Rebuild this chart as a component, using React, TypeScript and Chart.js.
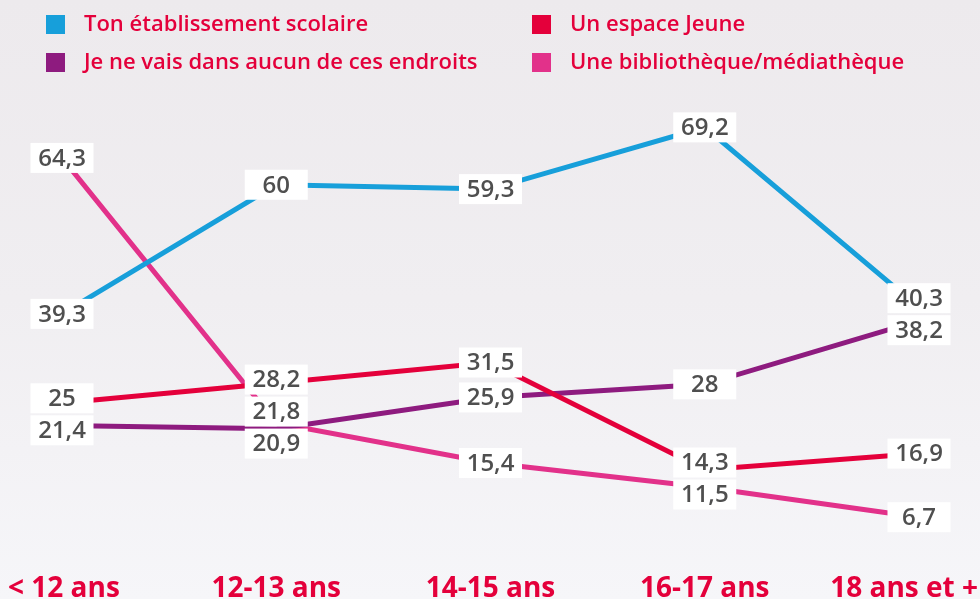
import React, { useEffect, useRef } from "react";
import { Chart, registerables } from "chart.js";

Chart.register(...registerables);

// ---- Data ----
const categories = ["< 12 ans", "12-13 ans", "14-15 ans", "16-17 ans", "18 ans et +"];
const seriesNames = [
  "Ton établissement scolaire",
  "Un espace Jeune",
  "Je ne vais dans aucun de ces endroits",
  "Une bibliothèque/médiathèque",
];
const etablissement = [39.3, 60, 59.3, 69.2, 40.3];
const espaceJeune = [25, 28.2, 31.5, 14.3, 16.9];
const aucunEndroit = [21.4, 20.9, 25.9, 28, 38.2];
const bibliotheque = [64.3, 21.8, 15.4, 11.5, 6.7];

const seriesColors = ["#179fda", "#e4003b", "#8e1b7f", "#e2318a"];
const RED_TEXT = "#e4003b";
const LABEL_TEXT = "#4f4f4f";

const fmt = (v: number) => String(v).replace(".", ",");

const valueLabelsPlugin = {
  id: "valueLabels",
  afterDatasetsDraw(chart: any) {
    const ctx = chart.ctx;
    const W = 63;
    const H = 30;
    const S = 32;
    const n = chart.data.labels.length;
    ctx.save();
    ctx.font = "600 24px 'Open Sans'";
    ctx.textAlign = "center";
    ctx.textBaseline = "middle";
    for (let i = 0; i < n; i++) {
      const items: any[] = [];
      chart.data.datasets.forEach((ds: any, d: number) => {
        const el = chart.getDatasetMeta(d).data[i];
        if (!el) return;
        items.push({ x: el.x, y: el.y, text: fmt(ds.data[i]) });
      });
      items.sort((a, b) => a.y - b.y);
      let groups = items.map((it) => ({ members: [it], center: it.y }));
      let changed = true;
      while (changed) {
        changed = false;
        for (let k = 0; k < groups.length - 1; k++) {
          const a = groups[k];
          const b = groups[k + 1];
          const aBottom = a.center + (a.members.length * S) / 2;
          const bTop = b.center - (b.members.length * S) / 2;
          if (aBottom > bTop) {
            const members = [...a.members, ...b.members];
            const center = members.reduce((s, m) => s + m.y, 0) / members.length;
            groups.splice(k, 2, { members, center });
            changed = true;
            break;
          }
        }
      }
      groups.forEach((g) => {
        const start = g.center - (g.members.length * S) / 2 + S / 2;
        g.members.forEach((m: any, j: number) => {
          const cy = start + j * S;
          ctx.fillStyle = "#ffffff";
          ctx.fillRect(m.x - W / 2, cy - H / 2, W, H);
          ctx.fillStyle = LABEL_TEXT;
          ctx.fillText(m.text, m.x, cy + 1);
        });
      });
    }
    ctx.restore();
  },
};

// Keep the outermost category labels inside the canvas
const clampTickLabelsPlugin = {
  id: "clampTickLabels",
  beforeDraw(chart: any) {
    const scale = chart.scales.x;
    if (!scale) return;
    const items = scale.getLabelItems();
    const ctx = chart.ctx;
    ctx.save();
    items.forEach((it: any) => {
      ctx.font = it.font.string;
      const w = ctx.measureText(String(it.label)).width;
      const tr = it.options.translation;
      const minX = 8 + w / 2;
      const maxX = chart.width - 2 - w / 2;
      if (tr[0] < minX) tr[0] = minX;
      if (tr[0] > maxX) tr[0] = maxX;
    });
    ctx.restore();
  },
};

const gridLegendPlugin = {
  id: "gridLegend",
  afterDraw(chart: any) {
    const ctx = chart.ctx;
    const cols = [46, 532];
    const rows = [24.5, 62.5];
    const box = 19;
    ctx.save();
    ctx.font = "600 22px 'Open Sans'";
    ctx.textAlign = "left";
    ctx.textBaseline = "middle";
    chart.data.datasets.forEach((ds: any, d: number) => {
      const col = d % 2;
      const row = Math.floor(d / 2);
      const x = cols[col];
      const y = rows[row];
      ctx.fillStyle = ds.borderColor;
      ctx.fillRect(x, y - box / 2, box, box);
      ctx.fillStyle = RED_TEXT;
      ctx.fillText(ds.label, x + 38, y);
    });
    ctx.restore();
  },
};

export default function App() {
  const canvasRef = useRef<HTMLCanvasElement | null>(null);

  useEffect(() => {
    document.body.style.margin = "0";
    const canvas = canvasRef.current;
    if (!canvas) return;
    const seriesData = [etablissement, espaceJeune, aucunEndroit, bibliotheque];
    const chart = new Chart(canvas, {
      type: "line",
      data: {
        labels: categories,
        datasets: seriesData.map((data, d) => ({
          label: seriesNames[d],
          data,
          borderColor: seriesColors[d],
          backgroundColor: seriesColors[d],
          borderWidth: 5,
          pointRadius: 0,
          pointHoverRadius: 0,
          tension: 0,
          fill: false,
        })),
      },
      options: {
        responsive: false,
        maintainAspectRatio: false,
        animation: false,
        devicePixelRatio: 1,
        layout: { padding: { left: 62, right: 61, top: 60, bottom: 0 } },
        plugins: {
          legend: { display: false },
          tooltip: { enabled: false },
        },
        scales: {
          y: {
            display: false,
            min: 0,
            max: 80,
          },
          x: {
            offset: false,
            grid: { display: false, drawTicks: false },
            border: { display: false },
            ticks: {
              color: RED_TEXT,
              font: { family: "'Open Sans'", weight: "bold", size: 28, lineHeight: 1 },
              padding: 16,
              maxRotation: 0,
              autoSkip: false,
            },
            afterFit(scale: any) {
              scale.paddingLeft = 0;
              scale.paddingRight = 0;
              scale.height = 40;
            },
          },
        },
      },
      plugins: [clampTickLabelsPlugin, valueLabelsPlugin, gridLegendPlugin],
    });
    return () => chart.destroy();
  }, []);

  return (
    <div
      style={{
        position: "fixed",
        left: 0,
        top: 0,
        width: 980,
        height: 599,
        background: "linear-gradient(180deg, #edeaed 0%, #f0eef1 50%, #f6f6f9 100%)",
      }}
    >
      <canvas ref={canvasRef} width={980} height={599} style={{ width: 980, height: 599, display: "block" }} />
    </div>
  );
}
